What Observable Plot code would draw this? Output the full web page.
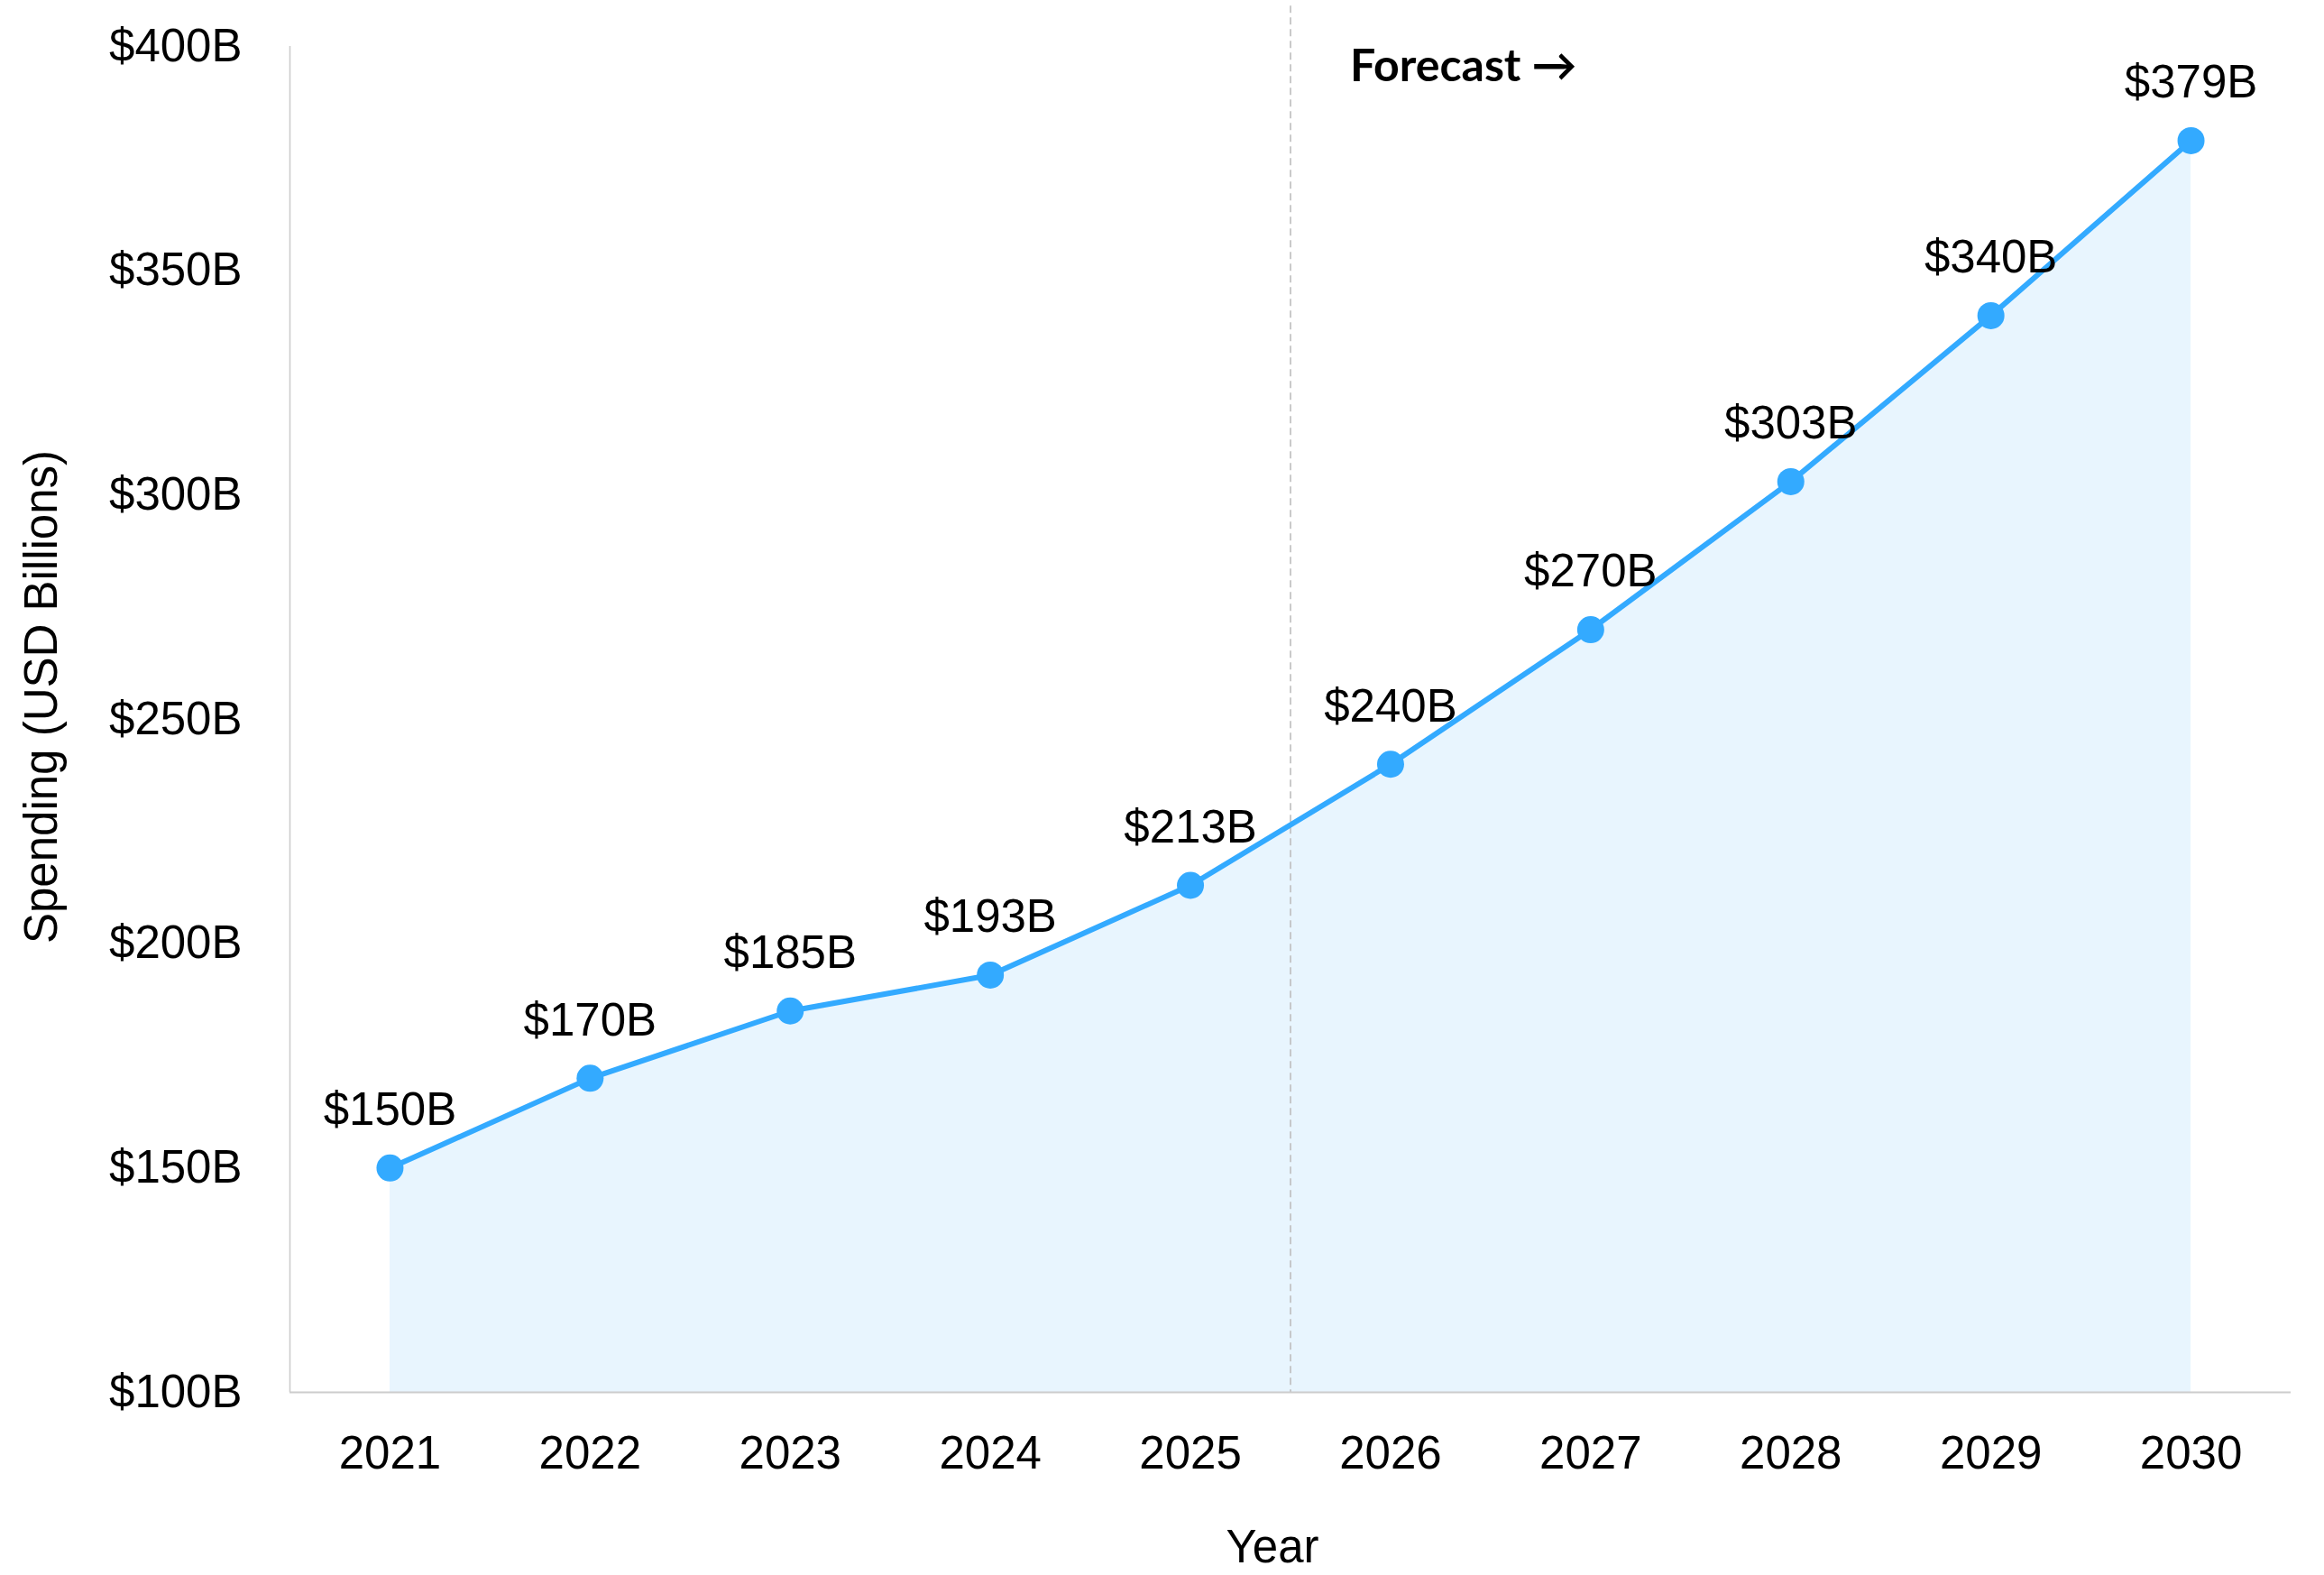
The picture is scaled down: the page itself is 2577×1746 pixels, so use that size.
<!DOCTYPE html>
<html>
<head>
<meta charset="utf-8">
<script src="https://cdn.jsdelivr.net/npm/d3@7"></script>
<script src="https://cdn.jsdelivr.net/npm/@observablehq/plot@0.6"></script>
<style>
  html, body { margin: 0; padding: 0; background: #fff; overflow: hidden; }
  svg { display: block; }
</style>
</head>
<body>
<div id="chart"></div>
<script>
const years = [2021, 2022, 2023, 2024, 2025, 2026, 2027, 2028, 2029, 2030];
const spending = [150, 170, 185, 193, 213, 240, 270, 303, 340, 379];
const yTicks = [100, 150, 200, 250, 300, 350, 400];
const forecastBoundary = 2025.5;
const forecastLabel = "Forecast \u2192";
const xTitle = "Year";
const yTitle = "Spending (USD Billions)";

const data = years.map((year, i) => ({year, value: spending[i]}));
const fmt = v => `$${v}B`;

const lineColor = "#33aaff";
const fillColor = "#e8f5fe";
const font = "'Liberation Sans', Arial, Helvetica, sans-serif";

const chart = Plot.plot({
  width: 2577,
  height: 1746,
  marginLeft: 321,
  marginRight: 37,
  marginTop: 51,
  marginBottom: 203,
  style: {fontFamily: font, fontSize: "51px", color: "#000", background: "#fff"},
  x: {domain: [2020.5, 2030.5], label: null},
  y: {domain: [100, 400], label: null},
  marks: [
    Plot.areaY(data, {x: "year", y1: 100, y2: "value", fill: fillColor}),
    Plot.ruleX([forecastBoundary], {y1: 409, y2: 100, stroke: "#bdbdbd", strokeWidth: 1.6, strokeDasharray: "8,5"}),
    Plot.ruleX([2020.5], {y1: 100, y2: 400, stroke: "#cccccc", strokeWidth: 1.6}),
    Plot.ruleY([100], {stroke: "#cccccc", strokeWidth: 2}),
    Plot.line(data, {x: "year", y: "value", stroke: lineColor, strokeWidth: 6}),
    Plot.dot(data, {x: "year", y: "value", r: 15, fill: lineColor, stroke: "none"}),
    Plot.text(data, {x: "year", y: "value", text: d => fmt(d.value), dy: -64, fill: "#000", fontSize: 51}),
    Plot.text([forecastLabel], {x: forecastBoundary, y: 395.4, text: d => d, textAnchor: "start", dx: 66, fontWeight: "bold", fontSize: 50, fontFamily: "Lato, 'Open Sans', sans-serif", fill: "#000"}),
    Plot.axisY({ticks: yTicks, tickFormat: fmt, tickSize: 0, tickPadding: 53, label: null, fontSize: 51}),
    Plot.axisX({ticks: years, tickFormat: d => String(d), tickSize: 0, tickPadding: 48, label: null, fontSize: 51}),
    Plot.text([xTitle], {frameAnchor: "bottom", text: d => d, textAnchor: "middle", lineAnchor: "middle", dx: -20, dy: 172, fontSize: 51, fill: "#000"}),
    Plot.text([yTitle], {frameAnchor: "left", text: d => d, textAnchor: "middle", lineAnchor: "middle", rotate: -90, dx: -275, dy: -25, fontSize: 51, fill: "#000"})
  ]
});
document.getElementById("chart").appendChild(chart);
</script>
</body>
</html>
